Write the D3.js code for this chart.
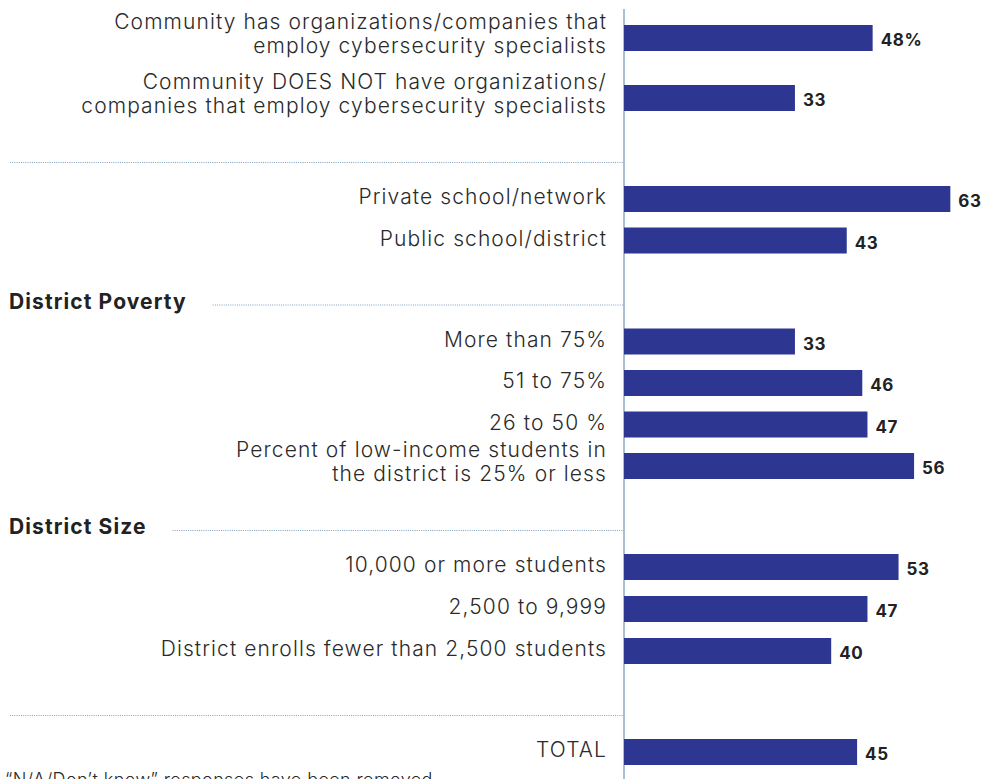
<!DOCTYPE html>
<html>
<head>
<meta charset="utf-8">
<script src="https://cdn.jsdelivr.net/npm/d3@7"></script>
<style>
  html, body { margin: 0; padding: 0; background: #fff; }
  svg { display: block; }
  .lbl { font-family: Inter, "Open Sans", sans-serif; font-weight: 300; fill: #2a2a2a; letter-spacing: 1.1px; }
  .note { font-family: Inter, "Open Sans", sans-serif; font-weight: 300; fill: #2a2a2a; letter-spacing: 0.4px; }
  .val { font-family: Inter, "Open Sans", sans-serif; font-weight: 700; fill: #222; letter-spacing: 0.6px; }
  .head { font-family: Inter, "Open Sans", sans-serif; font-weight: 700; fill: #222; letter-spacing: 1.1px; }
</style>
</head>
<body>
<svg id="chart" width="982" height="779"></svg>
<script>
// Row labels (multi-line labels split into lines)
const categories = [
  ["Community has organizations/companies that", "employ cybersecurity specialists"],
  ["Community DOES NOT have organizations/", "companies that employ cybersecurity specialists"],
  ["Private school/network"],
  ["Public school/district"],
  ["More than 75%"],
  ["51 to 75%"],
  ["26 to 50 %"],
  ["Percent of low-income students in", "the district is 25% or less"],
  ["10,000 or more students"],
  ["2,500 to 9,999"],
  ["District enrolls fewer than 2,500 students"],
  ["TOTAL"]
];
// Share of respondents (%)
const values = [48, 33, 63, 43, 33, 46, 47, 56, 53, 47, 40, 45];
const valueLabels = ["48%", "33", "63", "43", "33", "46", "47", "56", "53", "47", "40", "45"];
// Which section each row belongs to
const sectionOf = [0, 0, 1, 1, 2, 2, 2, 2, 3, 3, 3, 4];
// Section headings (null = plain separator)
const sectionHeadings = [null, null, "District Poverty", "District Size", null];
const footnote = "\u201CN/A/Don\u2019t know\u201D responses have been removed";

const svg = d3.select("#chart");
const axisX = 624;
const x = d3.scaleLinear().domain([0, 100]).range([axisX, axisX + 518]);
const barH = 26;
const barColor = "#2d3691";
const ruleColor = "#7fa2c4";

// Vertical layout: rows step within sections, larger gap between sections
const rowStep = [60, 41.5, 41.5, 42, 41.5];
const sectionGap = 101;
const rowY = [];
const sections = [];
let y = 38;
categories.forEach((c, i) => {
  const s = sectionOf[i];
  if (i > 0) {
    if (s !== sectionOf[i - 1]) {
      sections.push({ s, ruleY: y + 64 });
      y += sectionGap;
    } else {
      y += rowStep[s];
    }
  }
  rowY.push(y);
});

// Axis baseline
svg.append("line")
  .attr("x1", axisX).attr("x2", axisX)
  .attr("y1", 9).attr("y2", 779)
  .attr("stroke", "#8eaac6").attr("stroke-width", 1.5);

// Section separators and headings
sections.forEach(sec => {
  const heading = sectionHeadings[sec.s];
  let startX = 10;
  if (heading) {
    const t = svg.append("text")
      .attr("class", "head")
      .attr("x", 9).attr("y", sec.ruleY + 4)
      .attr("font-size", 21)
      .text(heading);
    startX = 9 + t.node().getComputedTextLength() + 26;
  }
  svg.append("line")
    .attr("x1", startX).attr("x2", axisX)
    .attr("y1", sec.ruleY + 0.5).attr("y2", sec.ruleY + 0.5)
    .attr("stroke", ruleColor).attr("stroke-width", 1)
    .attr("stroke-dasharray", "1,1.2");
});

// Bars
svg.append("g").selectAll("rect")
  .data(values)
  .join("rect")
  .attr("x", x(0))
  .attr("y", (d, i) => rowY[i] - barH / 2)
  .attr("width", d => x(d) - x(0))
  .attr("height", barH)
  .attr("fill", barColor);

// Value labels
svg.append("g").selectAll("text")
  .data(values)
  .join("text")
  .attr("class", "val")
  .attr("x", d => x(d) + 8)
  .attr("y", (d, i) => rowY[i] + 8)
  .attr("font-size", 17)
  .text((d, i) => valueLabels[i]);

// Category labels
const lblG = svg.append("g");
categories.forEach((lines, i) => {
  const t = lblG.append("text")
    .attr("class", "lbl")
    .attr("text-anchor", "end")
    .attr("font-size", 21);
  const first = lines.length === 1 ? rowY[i] + 5 : rowY[i] - 9;
  lines.forEach((ln, k) => {
    t.append("tspan")
      .attr("x", 607)
      .attr("y", first + k * 24)
      .text(ln);
  });
});

// Footnote (runs off the bottom edge of the frame)
svg.append("text")
  .attr("class", "note")
  .attr("x", 5).attr("y", 786)
  .attr("font-size", 18)
  .text(footnote);
</script>
</body>
</html>
